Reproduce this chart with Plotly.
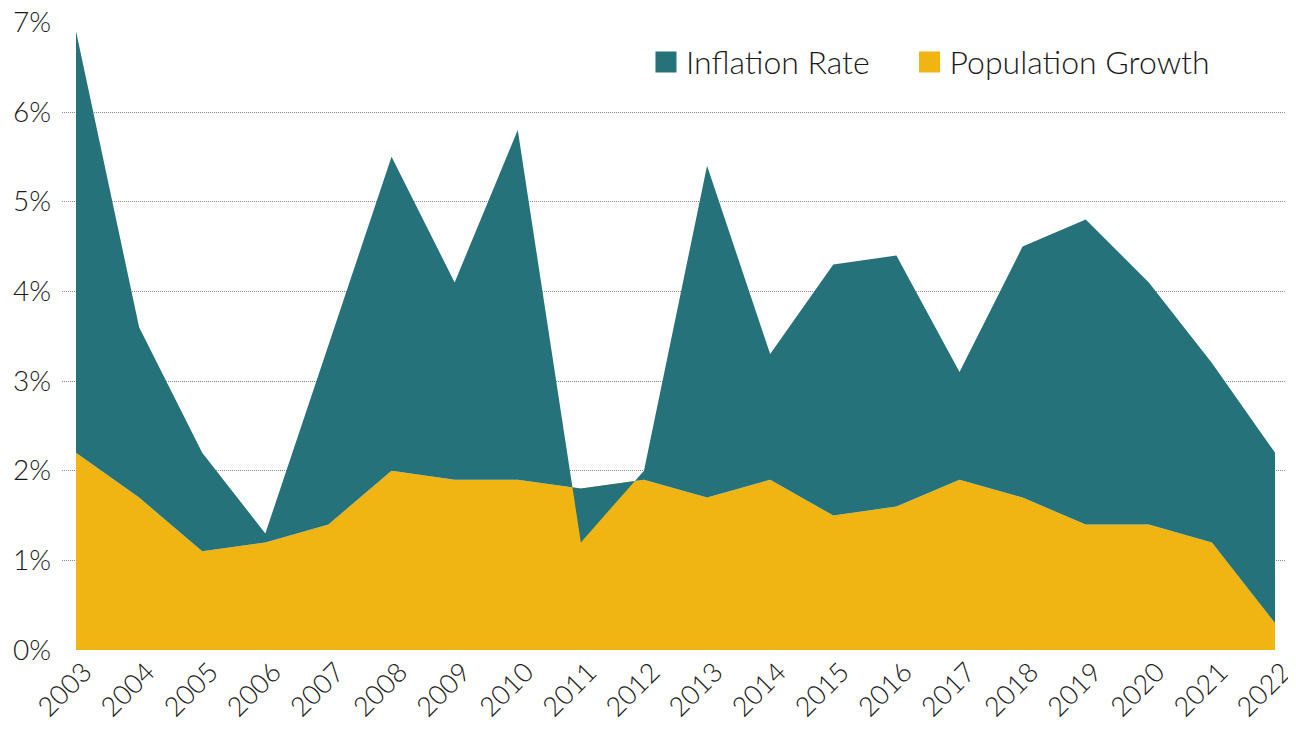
import plotly.graph_objects as go

years = list(range(2003, 2023))
inflation = [6.9, 3.6, 2.2, 1.3, 3.4, 5.5, 4.1, 5.8, 1.2, 2.0,
             5.4, 3.3, 4.3, 4.4, 3.1, 4.5, 4.8, 4.1, 3.2, 2.2]
population = [2.2, 1.7, 1.1, 1.2, 1.4, 2.0, 1.9, 1.9, 1.8, 1.9,
              1.7, 1.9, 1.5, 1.6, 1.9, 1.7, 1.4, 1.4, 1.2, 0.3]
y_ticks = [0, 1, 2, 3, 4, 5, 6, 7]
y_tick_labels = [f"{v}%" for v in y_ticks]

TEAL = "#26727B"
YELLOW = "#F0B513"
FONT = "Lato"

fig = go.Figure()
fig.add_trace(go.Scatter(
    x=years, y=population, mode="lines", fill="tozeroy",
    fillcolor=YELLOW, line=dict(width=0, color=YELLOW),
    name="Population Growth", showlegend=False, hoverinfo="skip"))
fig.add_trace(go.Scatter(
    x=years, y=inflation, mode="lines", fill="tonexty",
    fillcolor=TEAL, line=dict(width=0, color=TEAL),
    name="Inflation Rate", showlegend=False, hoverinfo="skip"))
# legend entries
fig.add_trace(go.Scatter(
    x=[None], y=[None], mode="markers", name="Inflation Rate",
    legend="legend",
    marker=dict(symbol="square", size=16, color=TEAL,
                line=dict(width=5, color=TEAL))))
fig.add_trace(go.Scatter(
    x=[None], y=[None], mode="markers", name="Population Growth",
    legend="legend2",
    marker=dict(symbol="square", size=16, color=YELLOW,
                line=dict(width=5, color=YELLOW))))

legend_common = dict(orientation="h", yanchor="middle", y=0.936,
                     xanchor="left", font=dict(size=32, weight=300),
                     bgcolor="rgba(0,0,0,0)", itemsizing="trace")

fig.update_layout(
    width=1288, height=721,
    margin=dict(l=54, r=11, t=14, b=79, autoexpand=False),
    paper_bgcolor="white", plot_bgcolor="white",
    font=dict(family=FONT, size=26, color="#1a1a1a", weight=300),
    legend=dict(x=0.4775, **legend_common),
    legend2=dict(x=0.693, **legend_common),
)
fig.update_xaxes(
    range=[2002.778, 2022.158], tickmode="array", tickvals=years,
    ticktext=[str(y) for y in years], tickangle=-45, automargin=False,
    showgrid=False, zeroline=False, showline=False, ticks="",
    ticklabelshift=8, ticklabeloverflow="allow",
    tickfont=dict(size=27, family=FONT, weight=300), fixedrange=True)
fig.update_yaxes(
    range=[0, 7.004], tickmode="array", tickvals=y_ticks, ticktext=y_tick_labels,
    showgrid=True, gridcolor="#8a8a8a", griddash="1px,1px", gridwidth=1,
    zeroline=False, showline=False, ticks="", ticklabelstandoff=10,
    automargin=False, ticklabeloverflow="allow",
    tickfont=dict(size=28, family=FONT, weight=300), fixedrange=True)

fig.write_html("out.html")
